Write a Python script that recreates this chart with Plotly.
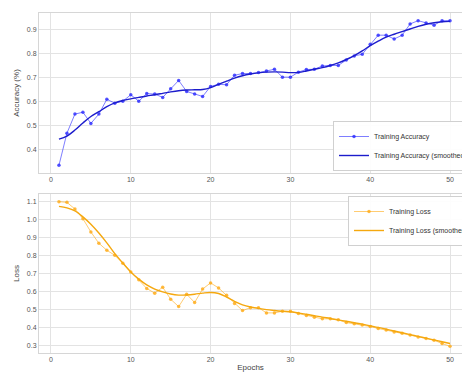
import plotly.graph_objects as go

epochs = list(range(1, 51))

acc_raw = [0.332, 0.467, 0.547, 0.555, 0.508, 0.547, 0.609, 0.593, 0.601, 0.628,
           0.601, 0.633, 0.631, 0.617, 0.653, 0.688, 0.642, 0.631, 0.621, 0.663,
           0.672, 0.670, 0.710, 0.717, 0.717, 0.721, 0.728, 0.735, 0.702, 0.702,
           0.723, 0.734, 0.735, 0.749, 0.751, 0.751, 0.774, 0.791, 0.798, 0.840,
           0.878, 0.878, 0.862, 0.878, 0.925, 0.939, 0.929, 0.920, 0.939, 0.939]

acc_smooth = [0.442, 0.455, 0.480, 0.510, 0.537, 0.557, 0.578, 0.594, 0.604, 0.611,
              0.617, 0.623, 0.628, 0.634, 0.640, 0.645, 0.648, 0.649, 0.650, 0.658,
              0.672, 0.685, 0.698, 0.708, 0.715, 0.720, 0.723, 0.724, 0.723, 0.721,
              0.722, 0.728, 0.735, 0.742, 0.751, 0.762, 0.776, 0.792, 0.812, 0.834,
              0.853, 0.870, 0.882, 0.893, 0.904, 0.915, 0.924, 0.930, 0.934, 0.936]

loss_raw = [1.100, 1.096, 1.059, 1.005, 0.931, 0.868, 0.829, 0.801, 0.757, 0.708,
            0.664, 0.616, 0.590, 0.623, 0.556, 0.515, 0.584, 0.538, 0.613, 0.647,
            0.619, 0.578, 0.532, 0.493, 0.509, 0.509, 0.480, 0.480, 0.489, 0.489,
            0.476, 0.465, 0.456, 0.447, 0.447, 0.441, 0.426, 0.419, 0.413, 0.404,
            0.393, 0.384, 0.374, 0.367, 0.356, 0.346, 0.337, 0.328, 0.309, 0.294]

loss_smooth = [1.074, 1.065, 1.048, 1.015, 0.974, 0.925, 0.870, 0.810, 0.758, 0.708,
               0.668, 0.636, 0.613, 0.597, 0.585, 0.579, 0.580, 0.584, 0.590, 0.594,
               0.588, 0.568, 0.544, 0.525, 0.513, 0.505, 0.498, 0.493, 0.489, 0.486,
               0.480, 0.472, 0.464, 0.456, 0.449, 0.441, 0.433, 0.425, 0.417, 0.408,
               0.399, 0.389, 0.379, 0.369, 0.359, 0.349, 0.339, 0.329, 0.319, 0.309]

x_ticks = [0, 10, 20, 30, 40, 50]

FONT = "Liberation Sans, Arial, sans-serif"
GRID = "#e3e3e3"
SPINE = "#d6d6d6"
TICKC = "#555555"

fig = go.Figure()

fig.add_trace(go.Scatter(
    x=epochs, y=acc_raw, mode="lines+markers", name="Training Accuracy",
    line=dict(color="rgba(40,40,255,0.6)", width=1),
    marker=dict(size=3.5, color="rgba(40,40,255,0.8)"),
    xaxis="x", yaxis="y", legend="legend"))
fig.add_trace(go.Scatter(
    x=epochs, y=acc_smooth, mode="lines", name="Training Accuracy (smoothed)",
    line=dict(color="#1c1ccc", width=1.4, shape="spline"),
    xaxis="x", yaxis="y", legend="legend"))

fig.add_trace(go.Scatter(
    x=epochs, y=loss_raw, mode="lines+markers", name="Training Loss",
    line=dict(color="rgba(255,170,20,0.6)", width=1),
    marker=dict(size=3.5, color="rgba(255,170,20,0.8)"),
    xaxis="x2", yaxis="y2", legend="legend2"))
fig.add_trace(go.Scatter(
    x=epochs, y=loss_smooth, mode="lines", name="Training Loss (smoothed)",
    line=dict(color="#f5a80f", width=1.4, shape="spline"),
    xaxis="x2", yaxis="y2", legend="legend2"))

W, H = 462, 372
xdom = [39 / W, 1.0]

common_x = dict(range=[-1.5, 51.5], tickvals=x_ticks, showgrid=True, gridcolor=GRID,
                gridwidth=1, zeroline=False, showline=True, linecolor=SPINE, mirror=True,
                ticks="", tickfont=dict(size=7, color=TICKC, family=FONT), domain=xdom,
                automargin=False)
common_y = dict(showgrid=True, gridcolor=GRID, gridwidth=1, zeroline=False, showline=True,
                linecolor=SPINE, mirror=True, ticks="", tickformat=".1f",
                tickfont=dict(size=7, color=TICKC, family=FONT), automargin=False)

fig.update_layout(
    width=W, height=H,
    margin=dict(l=0, r=0, t=0, b=0, autoexpand=False),
    paper_bgcolor="white", plot_bgcolor="white",
    font=dict(family=FONT, size=7, color="#444444"),
    xaxis=dict(**common_x, anchor="y"),
    yaxis=dict(**common_y, range=[0.30, 0.971], tickvals=[0.4, 0.5, 0.6, 0.7, 0.8, 0.9],
               domain=[1 - 173 / H, 1 - 13 / H], anchor="x",
               title=dict(text="Accuracy (%)", font=dict(size=8, color="#444444"), standoff=6)),
    xaxis2=dict(**common_x, anchor="y2",
                title=dict(text="Epochs", font=dict(size=8, color="#444444"), standoff=7)),
    yaxis2=dict(**common_y, range=[0.258, 1.141],
                tickvals=[0.3, 0.4, 0.5, 0.6, 0.7, 0.8, 0.9, 1.0, 1.1],
                domain=[1 - 352.7 / H, 1 - 194.3 / H], anchor="x2",
                title=dict(text="Loss", font=dict(size=8, color="#444444"), standoff=6)),
    legend=dict(x=333 / W, y=1 - 171 / H, xanchor="left", yanchor="bottom",
                bgcolor="rgba(255,255,255,0.9)", bordercolor="#d0d0d0", borderwidth=1,
                font=dict(size=7, color="#333333", family=FONT),
                itemwidth=30, tracegroupgap=0),
    legend2=dict(x=348 / W, y=1 - 196 / H, xanchor="left", yanchor="top",
                 bgcolor="rgba(255,255,255,0.9)", bordercolor="#d0d0d0", borderwidth=1,
                 font=dict(size=7, color="#333333", family=FONT),
                 itemwidth=30, tracegroupgap=0),
)

fig.write_html("out.html", config={"displayModeBar": False},
               post_script="document.body.style.margin='0px';document.body.style.overflow='hidden';")
